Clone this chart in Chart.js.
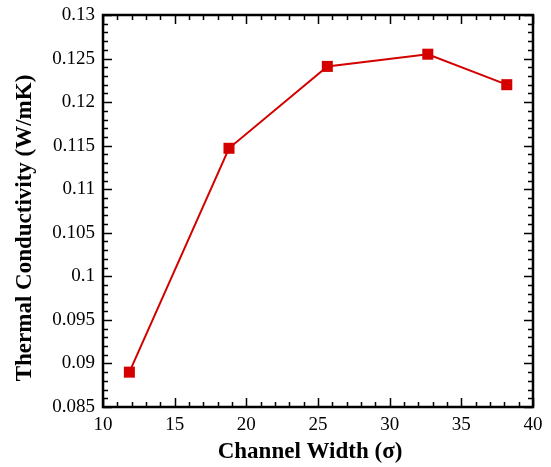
<!DOCTYPE html>
<html>
<head>
<meta charset="utf-8">
<script src="https://cdn.jsdelivr.net/npm/chart.js@4"></script>
<style>
  html, body { margin: 0; padding: 0; background: #fff; }
  #wrap { width: 551px; height: 467px; }
</style>
</head>
<body>
<div id="wrap"><canvas id="chart" width="551" height="467"></canvas></div>
<script>
// channel width (sigma) and thermal conductivity (W/mK)
const widths = [11.84, 18.79, 25.65, 32.66, 38.17];
const conductivity = [0.0890, 0.1147, 0.1241, 0.1255, 0.1220];

const xTicks = [10, 15, 20, 25, 30, 35, 40];
const yTicks = [0.085, 0.09, 0.095, 0.1, 0.105, 0.11, 0.115, 0.12, 0.125, 0.13];

const xTitle = 'Channel Width (σ)';
const yTitle = 'Thermal Conductivity (W/mK)';

const red = '#d40000';
const serif = '"Liberation Serif", "Times New Roman", serif';

// frame with inward major/minor ticks on all four sides, plus axis titles
const frameTicks = {
    id: 'frameTicks',
    afterDraw: function (chart) {
        var ctx = chart.ctx;
        var a = chart.chartArea;
        var xs = chart.scales.x, ys = chart.scales.y;
        ctx.save();
        ctx.strokeStyle = '#000';
        ctx.lineWidth = 1.5;
        var v, px, len;
        for (v = 10; v <= 40; v += 1) {
            px = Math.round(xs.getPixelForValue(v)) + 0.5;
            len = (v % 5 === 0) ? 9 : 5;
            ctx.beginPath();
            ctx.moveTo(px, a.bottom); ctx.lineTo(px, a.bottom - len);
            ctx.moveTo(px, a.top); ctx.lineTo(px, a.top + len);
            ctx.stroke();
        }
        for (var i = 85; i <= 130; i++) {
            v = i / 1000;
            px = Math.round(ys.getPixelForValue(v)) + 0.5;
            len = (i % 5 === 0) ? 9 : 5;
            ctx.beginPath();
            ctx.moveTo(a.left, px); ctx.lineTo(a.left + len, px);
            ctx.moveTo(a.right, px); ctx.lineTo(a.right - len, px);
            ctx.stroke();
        }
        ctx.lineWidth = 2.5;
        ctx.strokeRect(a.left, a.top, a.right - a.left, a.bottom - a.top);

        // titles
        ctx.fillStyle = '#000';
        ctx.font = 'bold 23px ' + serif;
        ctx.textAlign = 'center';
        ctx.textBaseline = 'middle';
        ctx.fillText(xTitle, 310, 452);
        ctx.translate(25, 228);
        ctx.rotate(-Math.PI / 2);
        ctx.fillText(yTitle, 0, 0);
        ctx.restore();
    }
};

new Chart(document.getElementById('chart'), {
    type: 'scatter',
    data: {
        datasets: [{
            data: widths.map(function (w, i) { return { x: w, y: conductivity[i] }; }),
            showLine: true,
            borderColor: red,
            borderWidth: 2,
            backgroundColor: red,
            pointStyle: 'rect',
            pointRadius: 7.8,
            pointBorderWidth: 0
        }]
    },
    options: {
        responsive: false,
        animation: false,
        layout: { padding: { top: 15, right: 18, left: 0, bottom: 0 } },
        plugins: { legend: { display: false }, tooltip: { enabled: false } },
        scales: {
            x: {
                type: 'linear',
                min: 10, max: 40,
                grid: { display: false, drawTicks: false },
                border: { display: false },
                afterBuildTicks: function (s) { s.ticks = xTicks.map(function (v) { return { value: v }; }); },
                afterFit: function (s) { s.height = 60; s.paddingLeft = 0; s.paddingRight = 0; },
                ticks: { color: '#000', padding: 7, font: { family: serif, size: 19 } }
            },
            y: {
                min: 0.085, max: 0.13,
                grid: { display: false, drawTicks: false },
                border: { display: false },
                afterBuildTicks: function (s) { s.ticks = yTicks.map(function (v) { return { value: v }; }); },
                afterFit: function (s) { s.width = 103; s.paddingTop = 0; s.paddingBottom = 0; },
                ticks: {
                    color: '#000', padding: 8,
                    font: { family: serif, size: 19 },
                    callback: function (v) { return String(parseFloat(v.toFixed(3))); }
                }
            }
        }
    },
    plugins: [frameTicks]
});
</script>
</body>
</html>
